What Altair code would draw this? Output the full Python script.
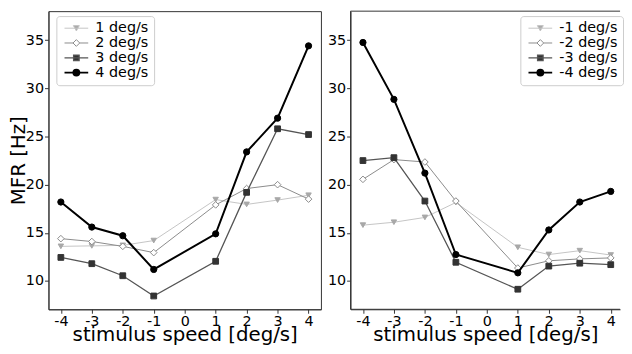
import altair as alt
import pandas as pd

speeds = [-4, -3, -2, -1, 1, 2, 3, 4]

left_labels = ["1 deg/s", "2 deg/s", "3 deg/s", "4 deg/s"]
left_s1 = [13.6, 13.65, 13.7, 14.2, 18.45, 17.95, 18.4, 18.9]
left_s2 = [14.4, 14.1, 13.6, 12.95, 17.9, 19.6, 20.0, 18.5]
left_s3 = [12.45, 11.8, 10.55, 8.45, 12.05, 19.2, 25.8, 25.2]
left_s4 = [18.2, 15.6, 14.7, 11.2, 14.9, 23.4, 26.9, 34.4]

right_labels = ["-1 deg/s", "-2 deg/s", "-3 deg/s", "-4 deg/s"]
right_s1 = [15.8, 16.1, 16.6, 18.15, 13.5, 12.75, 13.15, 12.7]
right_s2 = [20.55, 22.6, 22.35, 18.3, 11.35, 12.1, 12.3, 12.4]
right_s3 = [22.5, 22.8, 18.3, 11.95, 9.15, 11.55, 11.85, 11.7]
right_s4 = [34.75, 28.85, 21.2, 12.75, 10.85, 15.3, 18.2, 19.3]

x_ticks = [-4, -3, -2, -1, 0, 1, 2, 3, 4]
y_ticks = [10, 15, 20, 25, 30, 35]

line_colors = ["#c4c4c4", "#8a8a8a", "#555555", "#000000"]
marker_fill = ["#a8a8a8", "#ffffff", "#333333", "#000000"]
marker_stroke = ["#a8a8a8", "#8a8a8a", "#333333", "#000000"]
shapes = ["triangle-down", "diamond", "square", "circle"]
sizes = [30, 45, 34, 40]
line_widths = [1, 1, 1.3, 2]

legend_paths = [
    "M-1,0H5M1.25,-0.65H2.75L2,0.7Z",
    "M-1,0H1.15M2.85,0H5M2,-0.85L2.85,0L2,0.85L1.15,0Z",
    "M-1,0H5M1.3,-0.7H2.7V0.7H1.3Z",
    "M-1,0H5M2.75,0A0.75,0.75,0,1,1,1.25,0A0.75,0.75,0,1,1,2.75,0Z",
]

FONT = "DejaVu Sans"
FRAME = "#333333"
Y_DOMAIN = [7.07, 38.0]
LEFT_X_DOMAIN = [-4.4, 4.4]
RIGHT_X_DOMAIN = [-4.4, 4.3]
TICK_FS = 14.5
TITLE_FS = 20
LEGEND_FS = 14.5
PLOT_H = 302


def pick(labels, vals):
    def lit(v):
        return f"'{v}'" if isinstance(v, str) else repr(v)
    expr = lit(vals[-1])
    for lab, v in reversed(list(zip(labels[:-1], vals[:-1]))):
        expr = f"(datum.value == '{lab}' ? {lit(v)} : {expr})"
    return alt.ExprRef(expr=expr)


def panel(series, labels, x_domain, width, legend_x, y_title, open_right):
    legend = alt.Legend(
        title=None,
        orient="none",
        legendX=legend_x,
        legendY=5,
        symbolSize=64,
        symbolType=pick(labels, legend_paths),
        symbolFillColor=pick(labels, marker_fill),
        symbolStrokeWidth=pick(labels, line_widths),
        labelOffset=20,
        labelFontSize=LEGEND_FS,
        labelFont=FONT,
        labelColor="black",
        padding=5,
        rowPadding=0,
        strokeColor="#cccccc",
        cornerRadius=3,
        fillColor="white",
    )
    xaxis = alt.Axis(
        values=x_ticks, labelExpr="'' + datum.value", grid=False, tickSize=4,
        tickColor=FRAME, domainColor=FRAME, labelFontSize=TICK_FS, labelFont=FONT,
        labelColor="black", labelPadding=1, labelFlush=False, labelOverlap=False,
        title="stimulus speed [deg/s]", titleFontSize=TITLE_FS, titleFont=FONT,
        titleFontWeight="normal", titleColor="black", titlePadding=-3,
    )
    yaxis_kw = dict(
        values=y_ticks, grid=False, tickSize=4, tickColor=FRAME, domainColor=FRAME,
        labelFontSize=TICK_FS, labelFont=FONT, labelColor="black", labelPadding=1,
        labelOverlap=False,
    )
    if y_title:
        yaxis = alt.Axis(title=y_title, titleFontSize=TITLE_FS, titleFont=FONT,
                         titleFontWeight="normal", titleColor="black",
                         titlePadding=-3, **yaxis_kw)
    else:
        yaxis = alt.Axis(title=None, **yaxis_kw)

    xs = alt.Scale(domain=x_domain, nice=False, zero=False)
    ys = alt.Scale(domain=Y_DOMAIN, nice=False, zero=False)
    layers = []
    for i, (lab, vals) in enumerate(zip(labels, series)):
        df = pd.DataFrame({"speed": speeds, "mfr": vals, "series": lab})
        base = alt.Chart(df)
        x = alt.X("speed:Q", scale=xs, axis=xaxis)
        y = alt.Y("mfr:Q", scale=ys, axis=yaxis)
        line = base.mark_line(strokeWidth=line_widths[i], clip=True).encode(
            x=x, y=y,
            color=alt.Color("series:N",
                            scale=alt.Scale(domain=labels, range=line_colors),
                            legend=legend),
        )
        pts = base.mark_point(
            shape=shapes[i], filled=True, fill=marker_fill[i],
            stroke=marker_stroke[i], strokeWidth=1, size=sizes[i], opacity=1,
            clip=True,
        ).encode(x=x, y=y)
        layers += [line, pts]
    if open_right:
        # frame on top, left and bottom only (the reference is cut at its right edge)
        edge = alt.Chart(pd.DataFrame({"k": [0]})).mark_rule(
            color=FRAME, strokeWidth=1
        )
        layers += [
            edge.encode(y=alt.YDatum(Y_DOMAIN[1], scale=ys, axis=yaxis)),
            edge.encode(y=alt.YDatum(Y_DOMAIN[0], scale=ys, axis=yaxis)),
            edge.encode(x=alt.XDatum(x_domain[0], scale=xs, axis=xaxis)),
        ]
    ch = alt.layer(*layers).properties(width=width, height=PLOT_H)
    if open_right:
        ch = ch.properties(view=alt.ViewBackground(stroke="transparent"))
    return ch


left = panel([left_s1, left_s2, left_s3, left_s4], left_labels,
             LEFT_X_DOMAIN, 276, 8, "MFR [Hz]", False)
right = panel([right_s1, right_s2, right_s3, right_s4], right_labels,
              RIGHT_X_DOMAIN, 273, 172, None, True)

chart = (
    alt.hconcat(left, right, spacing=5)
    .resolve_scale(color="independent")
    .resolve_legend(color="independent")
    .properties(padding=0)
    .configure_view(stroke=FRAME, strokeWidth=1)
    .configure_axis(domainWidth=1, tickWidth=1)
)

chart.save("out.html", embed_options={"renderer": "svg", "actions": False})
